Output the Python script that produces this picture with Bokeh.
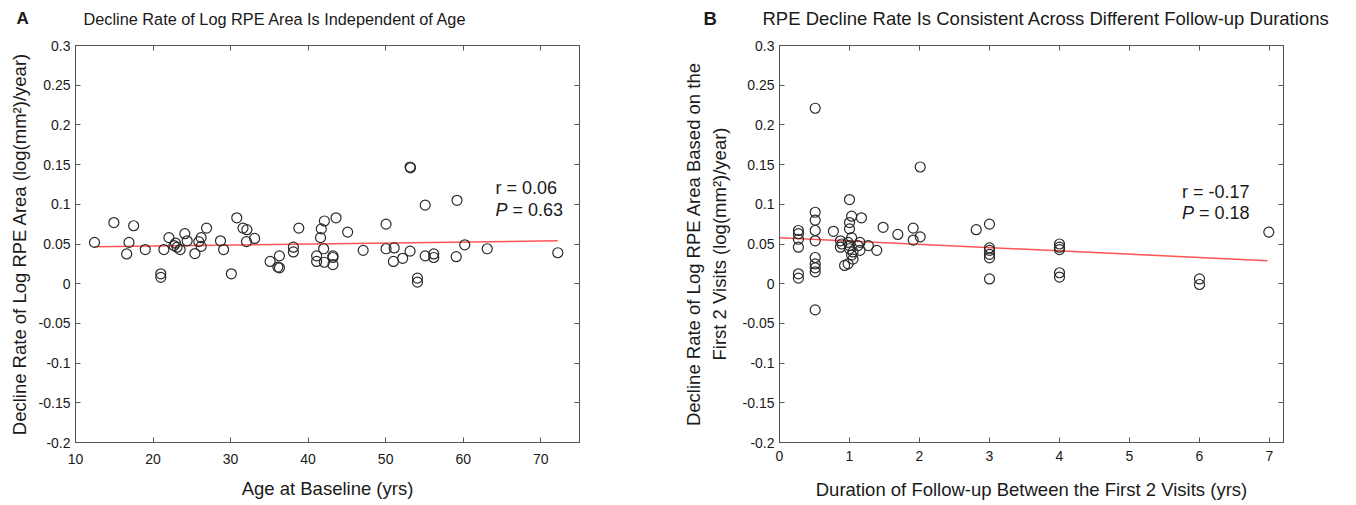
from bokeh.plotting import figure
from bokeh.layouts import row, column
from bokeh.models import Label, LinearAxis, FixedTicker, Range1d
from bokeh.core.properties import value
from bokeh.embed import file_html
from bokeh.resources import INLINE

# ---------------- data: panel A ----------------
age_a = [12.45, 14.95, 17.5, 16.9, 16.6, 19.0, 21.0, 21.0, 21.4, 22.05, 24.1, 22.9, 23.1, 23.5, 22.7,
         24.4, 25.4, 25.9, 26.2, 26.2, 26.9, 28.7, 29.1, 30.1, 30.8, 31.6, 32.1, 32.05, 33.1, 35.1,
         36.3, 36.1, 36.3, 38.1, 38.1, 38.8, 41.1, 41.1, 41.6, 41.7, 42.1, 42.0, 42.1, 43.2, 43.2,
         43.2, 43.6, 45.1, 47.1, 50.05, 50.05, 51.1, 51.0, 52.2, 53.15, 53.15, 53.2, 54.1, 54.1,
         55.1, 55.1, 56.2, 56.2, 59.2, 59.1, 60.2, 63.1, 72.2]
rate_a = [0.052, 0.077, 0.073, 0.052, 0.0375, 0.043, 0.0125, 0.008, 0.043, 0.058, 0.063, 0.051, 0.046, 0.043, 0.048,
          0.054, 0.038, 0.053, 0.058, 0.047, 0.070, 0.054, 0.043, 0.0125, 0.083, 0.070, 0.068, 0.053, 0.057, 0.028,
          0.035, 0.021, 0.020, 0.046, 0.040, 0.070, 0.035, 0.028, 0.058, 0.069, 0.079, 0.044, 0.027, 0.035, 0.033,
          0.024, 0.083, 0.065, 0.042, 0.075, 0.044, 0.045, 0.028, 0.032, 0.041, 0.147, 0.146, 0.007, 0.002,
          0.099, 0.035, 0.0375, 0.033, 0.105, 0.034, 0.049, 0.044, 0.039]
fit_a_x = [12.45, 72.2]
fit_a_y = [0.0466, 0.054]
stat_a = ["r = 0.06", "P", "= 0.63"]

# ---------------- data: panel B ----------------
dur_b = [0.27, 0.27, 0.27, 0.27, 0.27, 0.27,
         0.51, 0.51, 0.51, 0.51, 0.51, 0.51, 0.51, 0.51, 0.51, 0.51,
         0.77, 0.87, 0.87, 0.89, 0.93, 0.98, 0.98,
         1.0, 1.0, 1.0, 1.0, 1.0, 1.03, 1.03, 1.03, 1.05, 1.05,
         1.12, 1.15, 1.15, 1.17, 1.27, 1.39, 1.48, 1.69, 1.91, 1.91, 2.01, 2.01,
         2.81, 3.0, 3.0, 3.0, 3.0, 3.0, 3.0,
         4.0, 4.0, 4.0, 4.0, 4.0, 6.0, 6.0, 6.99]
rate_b = [0.067, 0.063, 0.056, 0.046, 0.0125, 0.007,
          0.221, 0.090, 0.080, 0.067, 0.054, 0.033, 0.025, 0.020, 0.015, -0.033,
          0.066, 0.054, 0.046, 0.050, 0.023, 0.052, 0.025,
          0.106, 0.077, 0.069, 0.048, 0.044, 0.058, 0.085, 0.036, 0.040, 0.031,
          0.048, 0.042, 0.052, 0.083, 0.048, 0.042, 0.071, 0.062, 0.070, 0.055, 0.147, 0.059,
          0.068, 0.075, 0.045, 0.042, 0.037, 0.0325, 0.006,
          0.050, 0.046, 0.043, 0.0138, 0.0084, 0.006, -0.001, 0.065]
fit_b_x = [0.0, 6.97]
fit_b_y = [0.058, 0.029]
stat_b = ["r = -0.17", "P", "= 0.18"]

y_ticks = [-0.2, -0.15, -0.1, -0.05, 0, 0.05, 0.1, 0.15, 0.2, 0.25, 0.3]
y_tick_labels = ["-0.2", "-0.15", "-0.1", "-0.05", "0", "0.05", "0.1", "0.15", "0.2", "0.25", "0.3"]
x_ticks_a = [10, 20, 30, 40, 50, 60, 70]
x_ticks_b = [0, 1, 2, 3, 4, 5, 6, 7]

panel_letters = ["A", "B"]
panel_titles = ["Decline Rate of Log RPE Area Is Independent of Age",
                "RPE Decline Rate Is Consistent Across Different Follow-up Durations"]

FONT = "Liberation Sans"
AX = "#555555"
TXT = "#1a1a1a"
HEAD_H = 33


def style_axis(ax, ticks, labels=None, show_labels=True, size="14px"):
    ax.ticker = FixedTicker(ticks=ticks)
    ax.minor_tick_line_color = None
    ax.major_tick_in = 5
    ax.major_tick_out = 0
    ax.major_tick_line_color = AX
    ax.axis_line_color = AX
    ax.major_label_text_font = FONT
    ax.major_label_text_font_size = size
    ax.major_label_text_color = TXT
    ax.axis_label_text_font = FONT
    ax.axis_label_text_font_size = "18.5px"
    ax.axis_label_text_font_style = "normal"
    ax.axis_label_text_color = TXT
    if labels is not None:
        ax.major_label_overrides = {t: l for t, l in zip(ticks, labels)}
    if not show_labels:
        ax.major_label_text_alpha = 0
        ax.major_label_text_font_size = "1px"
        ax.major_label_standoff = 0


def make_panel(width, xr, x_ticks, xs, ys, fx, fy, xlabel, ylabel, borders,
               stat, stat_x, stat_y1, stat_y2, xstand, ylstand, xlstand):
    left, right, top, bottom = borders
    p = figure(width=width, height=505 - HEAD_H, x_range=Range1d(*xr), y_range=Range1d(-0.2, 0.3),
               output_backend="svg", toolbar_location=None,
               min_border_left=left, min_border_right=right,
               min_border_top=top, min_border_bottom=bottom)
    p.grid.visible = False
    p.background_fill_color = "white"
    p.border_fill_color = "white"
    p.outline_line_color = AX
    style_axis(p.xaxis[0], x_ticks)
    style_axis(p.yaxis[0], y_ticks, y_tick_labels)
    p.xaxis[0].axis_label = xlabel
    p.yaxis[0].axis_label = ylabel
    p.xaxis[0].major_label_standoff = xstand
    p.xaxis[0].axis_label_standoff = xlstand
    p.yaxis[0].major_label_standoff = 5
    p.yaxis[0].axis_label_standoff = ylstand
    top_ax = LinearAxis()
    style_axis(top_ax, x_ticks, show_labels=False)
    right_ax = LinearAxis()
    style_axis(right_ax, y_ticks, show_labels=False)
    p.add_layout(top_ax, "above")
    p.add_layout(right_ax, "right")

    p.line(fx, fy, line_color="#ff5555", line_width=1.5)
    p.scatter(xs, ys, marker="circle", size=10, fill_color=None,
              line_color="#2a2a2a", line_width=1.2)

    common = dict(text_font=FONT, text_font_size="18px", text_color=TXT,
                  text_baseline="middle", text_align="left")
    p.add_layout(Label(x=stat_x, y=stat_y1, text=stat[0], **common))
    p.add_layout(Label(x=stat_x, y=stat_y2, text=stat[1], text_font_style="italic", **common))
    p.add_layout(Label(x=stat_x, y=stat_y2, x_offset=17, text=stat[2], **common))
    return p


# header strip holding the panel letters and titles
head = figure(width=1356, height=HEAD_H, x_range=Range1d(0, 1356), y_range=Range1d(0, HEAD_H),
              output_backend="svg", toolbar_location=None, x_axis_type=None, y_axis_type=None,
              min_border_left=0, min_border_right=0, min_border_top=0, min_border_bottom=0)
head.grid.visible = False
head.outline_line_color = None
head.text(x=[16], y=[15], text=panel_letters[:1], text_font=value(FONT),
          text_font_size="17px", text_font_style="bold", text_color=TXT, text_baseline="middle")
head.text(x=[703], y=[15], text=panel_letters[1:], text_font=value(FONT),
          text_font_size="18.5px", text_font_style="bold", text_color=TXT, text_baseline="middle")
head.text(x=[83], y=[15], text=panel_titles[:1], text_font=value(FONT),
          text_font_size="16.3px", text_color=TXT, text_baseline="middle")
head.text(x=[762], y=[15], text=panel_titles[1:], text_font=value(FONT),
          text_font_size="18.5px", text_color=TXT, text_baseline="middle")

pa = make_panel(680, (10, 75), x_ticks_a, age_a, rate_a, fit_a_x, fit_a_y,
                "Age at Baseline (yrs)",
                "Decline Rate of Log RPE Area (log(mm\u00b2)/year)",
                (75, 101, 45 - HEAD_H, 61),
                stat_a, 64.17, 0.121, 0.0925, 11, 6, 11)

pb = make_panel(676, (0, 7.2), x_ticks_b, dur_b, rate_b, fit_b_x, fit_b_y,
                "Duration of Follow-up Between the First 2 Visits (yrs)",
                "Decline Rate of Log RPE Area Based on the\nFirst 2 Visits (log(mm\u00b2)/year)",
                (99, 73, 42 - HEAD_H, 63),
                stat_b, 5.75, 0.116, 0.089, 8, 10, 15)

layout = column(head, row(pa, pb))
open("out.html", "w").write(file_html(layout, INLINE))
